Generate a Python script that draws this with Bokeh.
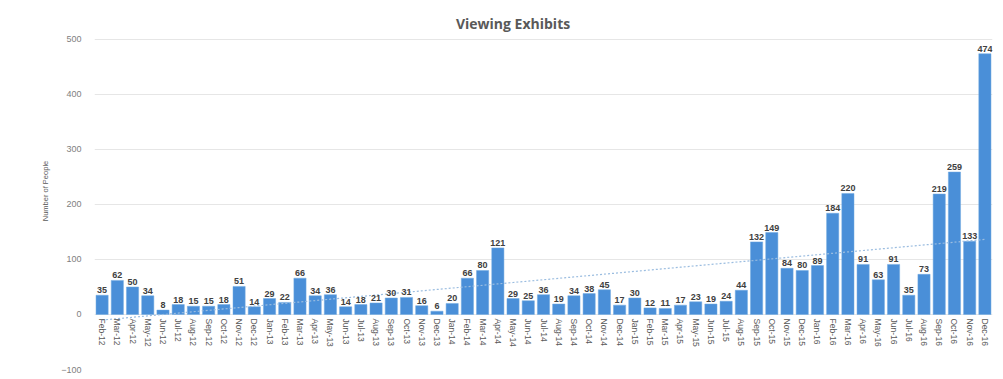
import numpy as np
from bokeh.plotting import figure
from bokeh.models import FactorRange, Range1d, FixedTicker, ColumnDataSource
from bokeh.core.properties import value
from bokeh.embed import file_html
from bokeh.resources import INLINE

months = ["Feb-12", "Mar-12", "Apr-12", "May-12", "Jun-12", "Jul-12", "Aug-12", "Sep-12", "Oct-12", "Nov-12", "Dec-12",
          "Jan-13", "Feb-13", "Mar-13", "Apr-13", "May-13", "Jun-13", "Jul-13", "Aug-13", "Sep-13", "Oct-13", "Nov-13", "Dec-13",
          "Jan-14", "Feb-14", "Mar-14", "Apr-14", "May-14", "Jun-14", "Jul-14", "Aug-14", "Sep-14", "Oct-14", "Nov-14", "Dec-14",
          "Jan-15", "Feb-15", "Mar-15", "Apr-15", "May-15", "Jun-15", "Jul-15", "Aug-15", "Sep-15", "Oct-15", "Nov-15", "Dec-15",
          "Jan-16", "Feb-16", "Mar-16", "Apr-16", "May-16", "Jun-16", "Jul-16", "Aug-16", "Sep-16", "Oct-16", "Nov-16", "Dec-16"]
people = [35, 62, 50, 34, 8, 18, 15, 15, 18, 51, 14,
          29, 22, 66, 34, 36, 14, 18, 21, 30, 31, 16, 6,
          20, 66, 80, 121, 29, 25, 36, 19, 34, 38, 45, 17,
          30, 12, 11, 17, 23, 19, 24, 44, 132, 149, 84, 80,
          89, 184, 220, 91, 63, 91, 35, 73, 219, 259, 133, 474]
y_ticks = [-100, 0, 100, 200, 300, 400, 500]
title_text = "Viewing Exhibits"
y_label = "Number of People"

# linear trendline (least squares, like Excel's linear trendline)
idx = np.arange(len(people))
slope, intercept = np.polyfit(idx, people, 1)
trend = list(slope * idx + intercept)

src = ColumnDataSource(dict(month=months, people=people, label=[str(v) for v in people], trend=trend))

p = figure(width=995, height=377, output_backend="svg", toolbar_location=None,
           x_range=FactorRange(*months, range_padding=0, factor_padding=0),
           y_range=Range1d(-100, 549), x_axis_location=None,
           min_border_left=94, min_border_right=3, min_border_top=12, min_border_bottom=8)
p.outline_line_color = None
p.background_fill_color = "white"
p.border_fill_color = "white"

p.xgrid.grid_line_color = None
p.ygrid.grid_line_color = "#e6e6e6"
p.ygrid.ticker = FixedTicker(ticks=y_ticks)

ax = p.yaxis[0]
ax.ticker = FixedTicker(ticks=y_ticks)
ax.axis_line_color = None
ax.major_tick_line_color = None
ax.minor_tick_line_color = None
ax.major_tick_out = 0
ax.major_label_standoff = 13
ax.major_label_text_font = "Liberation Sans"
ax.major_label_text_font_size = "9px"
ax.major_label_text_color = "#808080"
ax.axis_label = y_label
ax.axis_label_text_font = "Liberation Sans"
ax.axis_label_text_font_size = "7.5px"
ax.axis_label_text_font_style = "normal"
ax.axis_label_text_color = "#595959"
ax.axis_label_standoff = 8

p.vbar(x="month", top="people", width=0.8, source=src, fill_color="#4A8FD8", line_color="#6FA8E0", line_width=0.5)

p.line(x="month", y="trend", source=src, line_color="#9BBDE0", line_width=1.2, line_dash="2 2")

p.text(x="month", y="people", text="label", source=src, y_offset=-2,
       text_align="center", text_baseline="bottom", text_font=value("Liberation Sans"),
       text_font_size="9px", text_font_style="bold", text_color="#404040")

p.text(x="month", y=0, text="month", source=src, y_offset=4, angle=-np.pi / 2,
       text_align="left", text_baseline="middle", text_font=value("Liberation Sans"),
       text_font_size="8.5px", text_color="#595959")

p.text(x=["May-14"], y=[529], text=[title_text], text_align="center", text_baseline="middle",
       text_font=value("Open Sans"), text_font_size="14px", text_font_style="bold", text_color="#595959")

open("out.html", "w").write(file_html(p, INLINE))
